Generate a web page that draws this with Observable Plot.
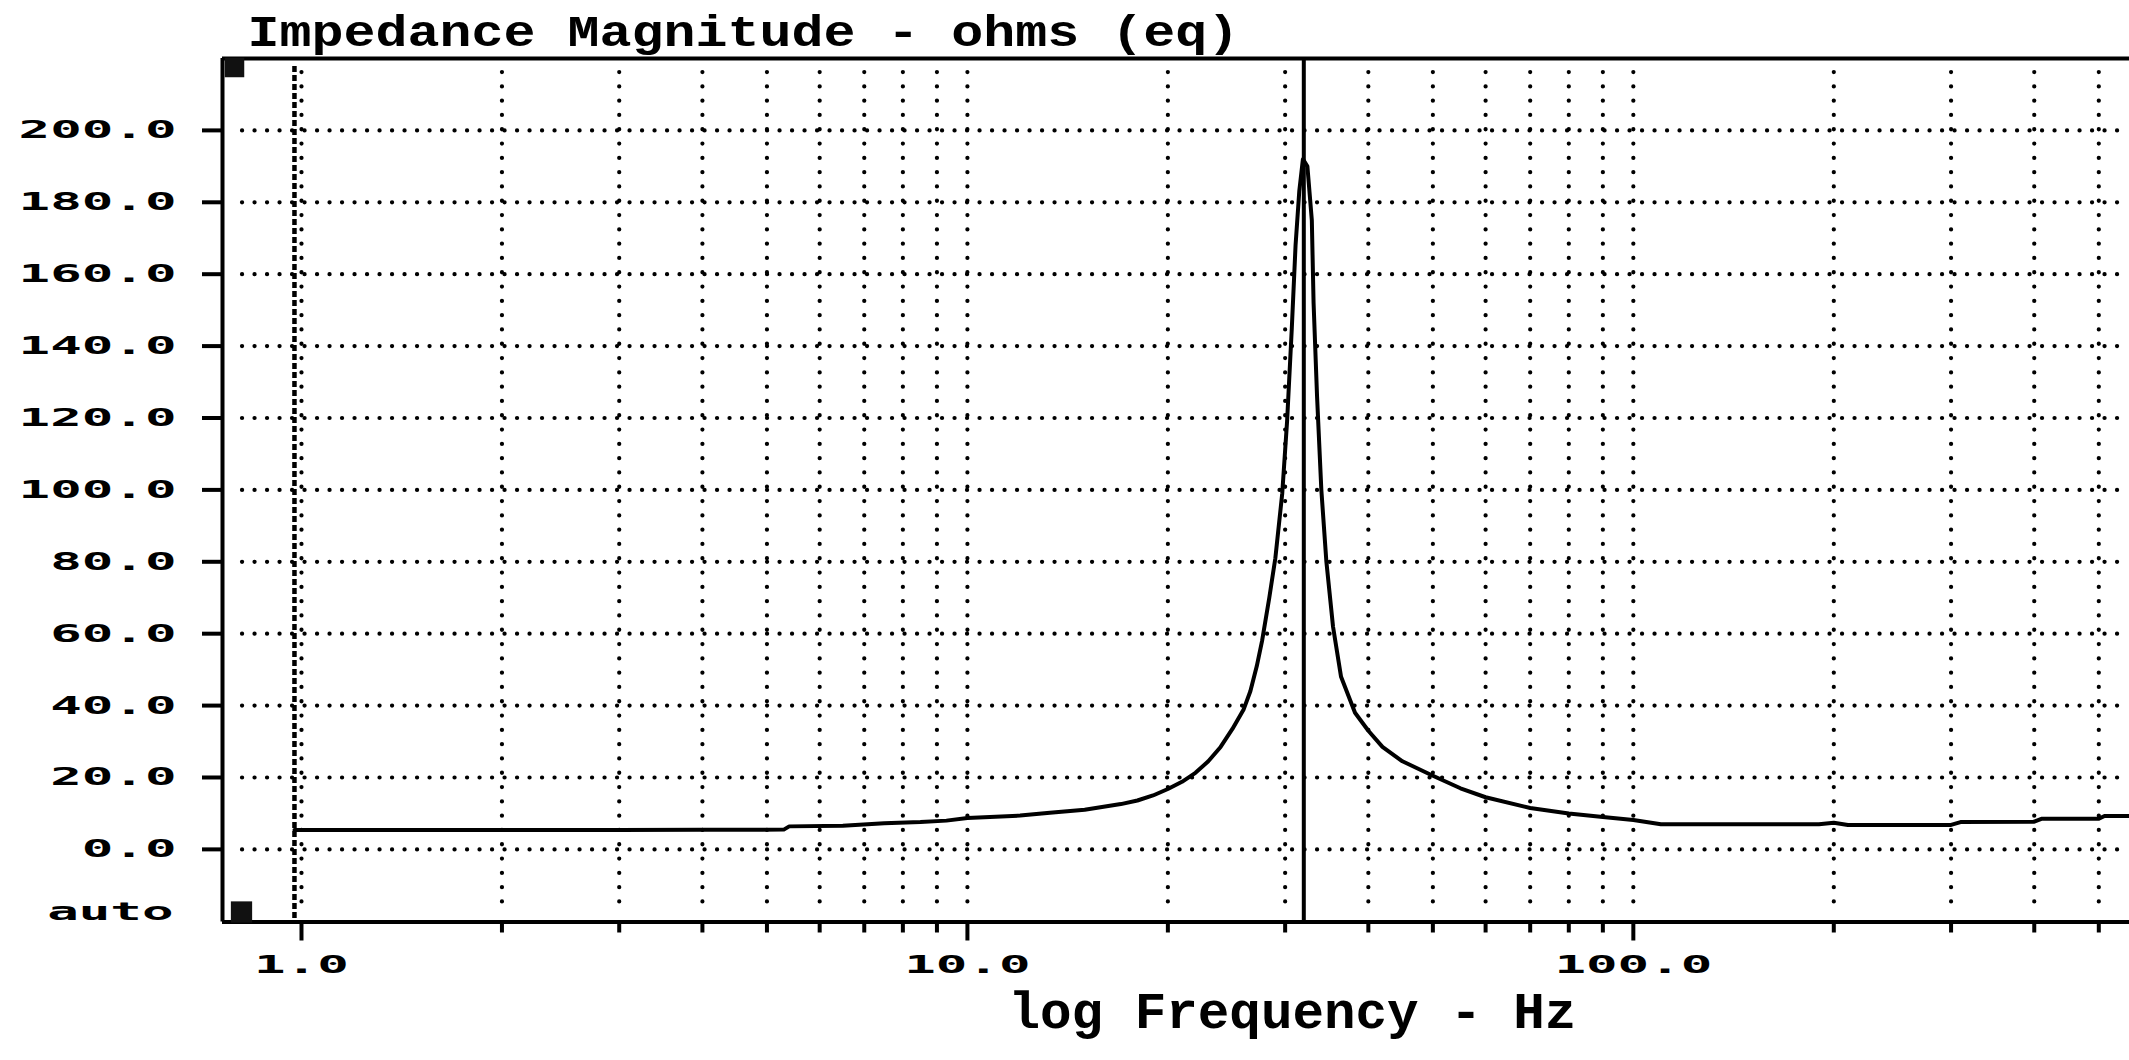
<!DOCTYPE html>
<html>
<head>
<meta charset="utf-8">
<script src="https://cdn.jsdelivr.net/npm/d3@7"></script>
<script src="https://cdn.jsdelivr.net/npm/@observablehq/plot@0.6"></script>
<style>
html, body { margin: 0; padding: 0; background: #fff; }
#chart svg { display: block; }
</style>
</head>
<body>
<div id="chart"></div>
<script>
// ---- data ----
const freqHz = [0.976, 1.5, 2, 3, 4, 5.3, 5.4, 6.5, 7.5, 8.5, 9.3, 10, 12, 13.3, 15, 17, 18, 19, 20, 21, 22,
  23, 24, 25, 26, 26.6, 27.2, 27.7, 28.4, 29.0, 29.7, 30.2, 30.7, 31.1, 31.5, 31.9, 32.4, 32.9, 33.1,
  33.5, 34.0, 34.6, 35.4, 36.4, 38.2, 40, 42, 45, 50, 55, 60, 70, 80, 90, 100, 110, 190, 200, 210, 300,
  310, 400, 410, 500, 510, 556];
const impedanceOhms = [5.4, 5.4, 5.4, 5.4, 5.45, 5.5, 6.4, 6.6, 7.3, 7.6, 8.0, 8.7, 9.4, 10.2, 11.0, 12.6, 13.6, 15.0, 16.8, 18.8, 21.3,
  24.5, 28.5, 33.5, 39, 44, 51, 58, 70, 81, 99, 119, 145, 168, 183, 192, 190, 175, 152,
  126, 100, 80, 62, 48, 38, 33, 28.5, 24.5, 20.5, 17, 14.5, 11.5, 10, 9, 8.2, 7.0, 7.0, 7.4, 6.8, 6.8,
  7.6, 7.7, 8.5, 8.5, 9.3, 9.3];

const yTicks = [0, 20, 40, 60, 80, 100, 120, 140, 160, 180, 200];
const yTickLabels = ["0.0", "20.0", "40.0", "60.0", "80.0", "100.0", "120.0", "140.0", "160.0", "180.0", "200.0"];
const xMajorTicks = [1, 10, 100];
const xMajorLabels = ["1.0", "10.0", "100.0"];
const xMinorTicks = [2, 3, 4, 5, 6, 7, 8, 9, 20, 30, 40, 50, 60, 70, 80, 90, 200, 300, 400, 500];
const xGridHz = [1, 2, 3, 4, 5, 6, 7, 8, 9, 10, 20, 30, 40, 50, 60, 70, 80, 90, 100, 200, 300, 400, 500];
const cursorHz = [32];
const sweepStartHz = [0.976];
const xDomain = [0.761, 556];
const yDomain = [-20.2, 220];

const titleText = "Impedance Magnitude - ohms (eq)";
const xLabelText = "log Frequency - Hz";
const yAutoText = "auto";

const data = freqHz.map((f, i) => ({f, z: impedanceOhms[i]}));

const labelFont = "DejaVu Sans Mono";
const titleFont = "Liberation Mono";

const svg = Plot.plot({
  width: 2129,
  height: 1060,
  marginLeft: 222,
  marginRight: 0,
  marginTop: 58,
  marginBottom: 138.5,
  style: {background: "#fff", color: "#000"},
  x: {type: "log", domain: xDomain, axis: null},
  y: {domain: yDomain, axis: null},
  marks: [
    // dotted grid
    Plot.ruleY(yTicks, {stroke: "#000", strokeWidth: 4.2, strokeLinecap: "round", strokeDasharray: "0.1,12.4", insetLeft: 20}),
    Plot.ruleX(xGridHz, {stroke: "#000", strokeWidth: 4.2, strokeLinecap: "round", strokeDasharray: "0.1,14.2", insetTop: 14, insetBottom: 12}),
    // sweep start marker (dashed) and cursor (solid)
    Plot.ruleX(sweepStartHz, {stroke: "#000", strokeWidth: 4.5, strokeDasharray: "6,3", insetTop: 8}),
    Plot.ruleX(cursorHz, {stroke: "#000", strokeWidth: 4}),
    // curve
    Plot.line(data, {x: "f", y: "z", stroke: "#000", strokeWidth: 4}),
    // frame: left, top, bottom
    Plot.ruleX([xDomain[0]], {stroke: "#000", strokeWidth: 4}),
    Plot.ruleY([yDomain[0]], {stroke: "#000", strokeWidth: 4}),
    Plot.ruleY([yDomain[1]], {stroke: "#000", strokeWidth: 4}),
    // corner handles
    Plot.dot([titleText], {frameAnchor: "top-left", symbol: "square", r: 11, fill: "#111", stroke: "none", dx: 12, dy: 9}),
    Plot.dot([yAutoText], {frameAnchor: "bottom-left", symbol: "square", r: 12, fill: "#111", stroke: "none", dx: 19, dy: -10}),
    // axes
    Plot.axisY(yTicks, {tickSize: 20, tickPadding: 26, strokeWidth: 4,
      tickFormat: d => yTickLabels[yTicks.indexOf(d)], label: null,
      fontFamily: labelFont, fontWeight: "bold", fontSize: 25}),
    Plot.axisX(xMajorTicks, {tickSize: 19, tickPadding: 14, strokeWidth: 4,
      tickFormat: d => xMajorLabels[xMajorTicks.indexOf(d)], label: null,
      fontFamily: labelFont, fontWeight: "bold", fontSize: 25}),
    Plot.axisX(xMinorTicks, {tickSize: 11, strokeWidth: 4, tickFormat: () => "", label: null}),
    // "auto" label at bottom of y axis
    Plot.text([yAutoText], {frameAnchor: "bottom-left", text: d => d, textAnchor: "end", lineAnchor: "middle",
      dx: -49, dy: -10, fontFamily: labelFont, fontWeight: "bold", fontSize: 25, fill: "#000"}),
    // title
    Plot.text([titleText], {frameAnchor: "top-left", text: d => d, textAnchor: "start", lineAnchor: "bottom",
      dx: 25, dy: -13, fontFamily: titleFont, fontWeight: "bold", fontSize: 44, fill: "#000"}),
    // x-axis label
    Plot.text([xLabelText], {frameAnchor: "bottom-left", text: d => d, textAnchor: "start", lineAnchor: "bottom",
      dx: 786, dy: 106, fontFamily: titleFont, fontWeight: "bold", fontSize: 52, fill: "#000"})
  ]
});

document.getElementById("chart").appendChild(svg);

// stretch the wide bitmap-like glyphs horizontally to the reference widths
d3.select(svg).selectAll("text").each(function () {
  const t = this.textContent;
  let len = null;
  if (t === titleText) len = 992;
  else if (t === xLabelText) len = 568;
  else if (t.length) len = t.length * 31.6;
  if (!len) return;
  const w = this.getComputedTextLength();
  if (!w) return;
  const s = len / w;
  const tr = this.getAttribute("transform") || "";
  this.setAttribute("transform", tr + ` scale(${s.toFixed(4)},1)`);
});
</script>
</body>
</html>
